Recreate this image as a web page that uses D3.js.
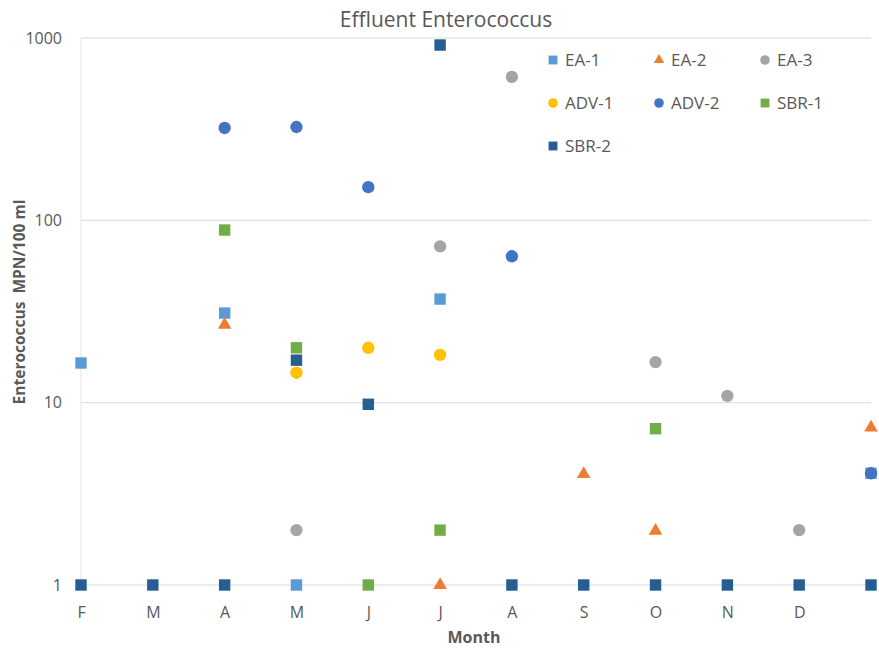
<!DOCTYPE html>
<html>
<head>
<meta charset="utf-8">
<script src="https://cdn.jsdelivr.net/npm/d3@7"></script>
<style>
  body { margin: 0; background: #fff; }
  text { font-family: "Open Sans", sans-serif; fill: #595959; }
</style>
</head>
<body>
<div class="canvas"></div>
<script>
// month slots on the x axis (the last slot has no label)
const months = ["F", "M", "A", "M", "J", "J", "A", "S", "O", "N", "D", ""];
const yTicks = [1, 10, 100, 1000];

// MPN/100 ml per month, null = no point
const ea1  = [16.5, null, 31, 1, null, 37, null, null, null, null, null, 4.1];
const ea2  = [null, null, 26.7, null, null, 1, null, 4.06, 1.98, null, null, 7.3];
const ea3  = [null, null, null, 2, null, 72, 612, null, 16.7, 10.9, 2, null];
const adv1 = [null, null, null, 14.6, 20, 18.3, null, null, null, null, null, null];
const adv2 = [null, null, 321, 325, 152, null, 63.5, null, null, null, null, 4.1];
const sbr1 = [null, null, 88.5, 20, 1, 2, null, null, 7.2, null, null, null];
const sbr2 = [1, 1, 1, 17.1, 9.8, 915, 1, 1, 1, 1, 1, 1];

const series = [
  { name: "EA-1",  values: ea1,  color: "#5B9BD5", shape: "square" },
  { name: "EA-2",  values: ea2,  color: "#ED7D31", shape: "triangle" },
  { name: "EA-3",  values: ea3,  color: "#A5A5A5", shape: "circle" },
  { name: "ADV-1", values: adv1, color: "#FFC000", shape: "circle" },
  { name: "ADV-2", values: adv2, color: "#4472C4", shape: "circle" },
  { name: "SBR-1", values: sbr1, color: "#70AD47", shape: "square" },
  { name: "SBR-2", values: sbr2, color: "#255E91", shape: "square" }
];

const width = 879, height = 650;
const margin = { left: 81, right: 8, top: 38, bottom: 65 };

const svg = d3.select('.canvas').append('svg')
  .attr('width', width)
  .attr('height', height);

const x = d3.scalePoint()
  .domain(d3.range(months.length))
  .range([margin.left, width - margin.right]);

const y = d3.scaleLog()
  .domain([1, 1000])
  .range([height - margin.bottom, margin.top]);

// gridlines
svg.append('g')
  .selectAll('line')
  .data(yTicks)
  .join('line')
  .attr('x1', margin.left)
  .attr('x2', width - margin.right)
  .attr('y1', d => y(d))
  .attr('y2', d => y(d))
  .attr('stroke', '#D9D9D9')
  .attr('stroke-width', 1);

svg.append('line')
  .attr('x1', margin.left).attr('x2', margin.left)
  .attr('y1', y(1000)).attr('y2', y(1))
  .attr('stroke', '#E3E3E3');

// y axis
const yAxis = svg.append('g')
  .attr('transform', `translate(${margin.left},0)`)
  .call(d3.axisLeft(y).tickValues(yTicks).tickFormat(d3.format('d')).tickSize(0).tickPadding(19));
yAxis.select('.domain').remove();
yAxis.selectAll('text').style('font-size', '16px').attr('fill', '#595959');

// x axis
const xAxis = svg.append('g')
  .attr('transform', `translate(0,${y(1)})`)
  .call(d3.axisBottom(x).tickFormat(i => months[i]).tickSize(0).tickPadding(22));
xAxis.select('.domain').remove();
xAxis.selectAll('text').style('font-size', '16px').attr('fill', '#595959');

// titles
svg.append('text')
  .attr('x', 446).attr('y', 27)
  .attr('text-anchor', 'middle')
  .style('font-size', '21px')
  .text('Effluent Enterococcus');

svg.append('text')
  .attr('x', 474).attr('y', 643)
  .attr('text-anchor', 'middle')
  .style('font-size', '16px')
  .style('font-weight', 'bold')
  .text('Month');

svg.append('text')
  .attr('transform', 'translate(25,302) rotate(-90)')
  .attr('text-anchor', 'middle')
  .style('font-size', '15.5px')
  .style('font-weight', 'bold')
  .attr('xml:space', 'preserve')
  .text('Enterococcus  MPN/100 ml');

const symType = { square: d3.symbolSquare, triangle: d3.symbolTriangle, circle: d3.symbolCircle };
const symSize = { square: 130, triangle: 80, circle: 120 };

function symbolPath(shape, scale) {
  return d3.symbol().type(symType[shape]).size(symSize[shape] * (scale || 1))();
}

// points
series.forEach(s => {
  svg.append('g')
    .selectAll('path')
    .data(s.values.map((v, i) => ({ i, v })).filter(d => d.v != null))
    .join('path')
    .attr('d', symbolPath(s.shape))
    .attr('transform', d => `translate(${x(d.i)},${y(d.v)})`)
    .attr('fill', s.color);
});

// legend
const legend = svg.append('g');
series.forEach((s, k) => {
  const col = k % 3, row = Math.floor(k / 3);
  const gx = 553 + col * 106, gy = 60 + row * 43;
  legend.append('path')
    .attr('d', symbolPath(s.shape, 0.6))
    .attr('transform', `translate(${gx},${gy})`)
    .attr('fill', s.color);
  legend.append('text')
    .attr('x', gx + 12).attr('y', gy + 6)
    .style('font-size', '17px')
    .text(s.name);
});
</script>
</body>
</html>
